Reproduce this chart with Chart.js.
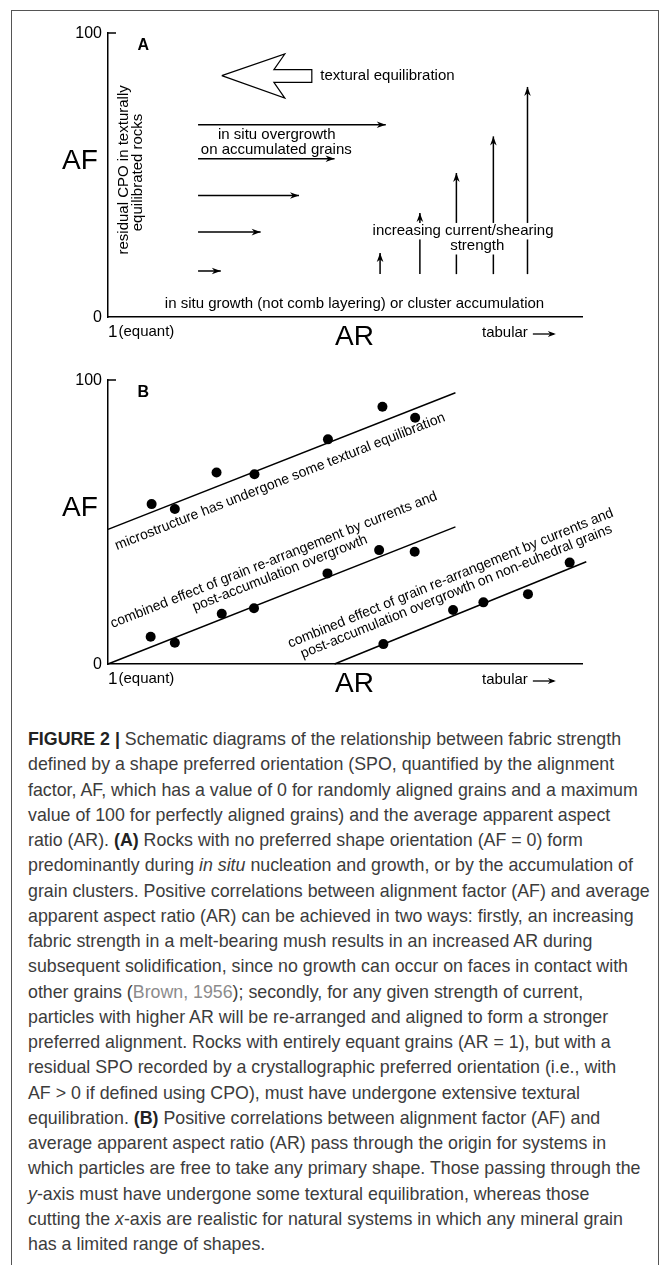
<!DOCTYPE html>
<html>
<head>
<meta charset="utf-8">
<script src="https://cdn.jsdelivr.net/npm/chart.js@4.4.1/dist/chart.umd.min.js"></script>
<style>
  body { margin: 0; background: #fff; width: 668px; height: 1265px; position: relative; overflow: hidden; font-family: 'Liberation Sans', Arial, sans-serif; }
  #frame { position: absolute; left: 11px; top: 10px; width: 646px; height: 1300px; border: 1px solid #555; border-bottom: none; }
  .panel { position: absolute; left: 0; }
  #A { top: 0; }
  #B { top: 350px; }
  #caption { position: absolute; left: 28px; top: 727px; font-size: 17.8px; line-height: 25.25px; color: #3c3c3c; white-space: nowrap; }
  #caption b { color: #222; }
  #caption .ref { color: #8c8c8c; }
</style>
</head>
<body>
<div id="frame"></div>
<canvas id="A" class="panel" width="668" height="350"></canvas>
<canvas id="B" class="panel" width="668" height="350"></canvas>
<div id="caption">
  <div><b>FIGURE 2 |</b> Schematic diagrams of the relationship between fabric strength</div>
  <div>defined by a shape preferred orientation (SPO, quantified by the alignment</div>
  <div>factor, AF, which has a value of 0 for randomly aligned grains and a maximum</div>
  <div>value of 100 for perfectly aligned grains) and the average apparent aspect</div>
  <div>ratio (AR). <b>(A)</b> Rocks with no preferred shape orientation (AF = 0) form</div>
  <div>predominantly during <i>in situ</i> nucleation and growth, or by the accumulation of</div>
  <div>grain clusters. Positive correlations between alignment factor (AF) and average</div>
  <div>apparent aspect ratio (AR) can be achieved in two ways: firstly, an increasing</div>
  <div>fabric strength in a melt-bearing mush results in an increased AR during</div>
  <div>subsequent solidification, since no growth can occur on faces in contact with</div>
  <div>other grains (<span class="ref">Brown, 1956</span>); secondly, for any given strength of current,</div>
  <div>particles with higher AR will be re-arranged and aligned to form a stronger</div>
  <div>preferred alignment. Rocks with entirely equant grains (AR = 1), but with a</div>
  <div>residual SPO recorded by a crystallographic preferred orientation (i.e., with</div>
  <div>AF &gt; 0 if defined using CPO), must have undergone extensive textural</div>
  <div>equilibration. <b>(B)</b> Positive correlations between alignment factor (AF) and</div>
  <div>average apparent aspect ratio (AR) pass through the origin for systems in</div>
  <div>which particles are free to take any primary shape. Those passing through the</div>
  <div><i>y</i>-axis must have undergone some textural equilibration, whereas those</div>
  <div>cutting the <i>x</i>-axis are realistic for natural systems in which any mineral grain</div>
  <div>has a limited range of shapes.</div>
</div>
<script>
// --- Panel A: in situ overgrowth arrows (horizontal)
const overgrowthAF = [67.7, 55.7, 42.8, 29.9, 16.2];
const overgrowthStartAR = [19, 19, 19, 19, 19];
const overgrowthEndAR = [58.6, 47.8, 40.3, 32.2, 23.8];

// --- Panel A: current/shearing arrows (vertical)
const currentAR = [57.4, 65.8, 73.5, 81.3, 88.5];
const currentBaseAF = [15.1, 15.1, 15.1, 15.1, 15.1];
const currentTopAF = [22.5, 36.6, 50.7, 63.6, 81.0];

// --- Panel A: outline of the big hollow arrow (textural equilibration)
const equilAR = [24.0, 37.3, 35.0, 43.0, 43.0, 35.0, 37.3, 24.0];
const equilAF = [85.0, 92.6, 87.1, 87.1, 82.6, 82.6, 77.1, 85.0];

// --- Panel B: trend lines
const trend1AR = [0, 73.3];
const trend1AF = [47.4, 95.5];
const trend2AR = [0, 73.3];
const trend2AF = [0, 48.3];
const trend3AR = [47.8, 100.9];
const trend3AF = [0, 36.0];

// --- Panel B: samples
const pts1AR = [9.2, 14.1, 22.9, 30.9, 46.4, 57.9, 64.8];
const pts1AF = [56.3, 54.6, 67.4, 66.8, 79.1, 90.6, 86.7];
const pts2AR = [9.0, 14.1, 24.0, 30.8, 46.3, 57.2, 64.7];
const pts2AF = [9.6, 7.5, 17.7, 19.6, 31.9, 40.1, 39.5];
const pts3AR = [58.1, 72.8, 79.2, 88.6, 97.4];
const pts3AF = [7.0, 19.0, 21.7, 24.6, 35.7];

// y tick labels (AF)
const yTicks = [0, 100];

const FONT = "'Liberation Sans', Arial, sans-serif";

function toPoints(xs, ys) {
  return xs.map((x, i) => ({ x: x, y: ys[i] }));
}

function lineSet(xs, ys, extra) {
  return Object.assign({
    type: 'scatter',
    data: toPoints(xs, ys),
    showLine: true,
    borderColor: '#000',
    borderWidth: 1.5,
    pointRadius: 0,
    fill: false,
    tension: 0,
    clip: false
  }, extra || {});
}

// notes drawn on top of each chart, in data units
const notes = {
  A: {
    letter: 'A',
    texts: [
      { text: 'textural equilibration', x: 44.8, y: 85.0, align: 'left' },
      { text: 'in situ overgrowth', x: 35.6, y: 64.2 },
      { text: 'on accumulated grains', x: 35.5, y: 58.9 },
      { text: 'increasing current/shearing', x: 74.9, y: 30.3, box: true },
      { text: 'strength', x: 77.9, y: 25.0, box: true },
      { text: 'in situ growth (not comb layering) or cluster accumulation', x: 52.0, y: 4.6 },
      { text: 'residual CPO in texturally', x: 3.3, y: 51.8, rot: -Math.PI / 2 },
      { text: 'equilibrated rocks', x: 6.4, y: 50.9, rot: -Math.PI / 2 }
    ]
  },
  B: {
    letter: 'B',
    texts: [
      { text: 'microstructure has undergone some textural equilibration', x: 36.3, y: 64.2, along: 0, size: 14 },
      { text: 'combined effect of grain re-arrangement by currents and', x: 35.0, y: 36.6, along: 1, size: 14 },
      { text: 'post-accumulation overgrowth', x: 36.3, y: 31.9, along: 1, size: 14 },
      { text: 'combined effect of grain re-arrangement by currents and', x: 72.3, y: 30.2, along: 2, size: 14 },
      { text: 'post-accumulation overgrowth on non-euhedral grains', x: 73.5, y: 25.5, along: 2, size: 14 }
    ]
  }
};

function arrowHead(ctx, x1, y1, x2, y2, len, half) {
  const a = Math.atan2(y2 - y1, x2 - x1);
  const c = Math.cos(a), s = Math.sin(a);
  ctx.beginPath();
  ctx.moveTo(x2, y2);
  ctx.lineTo(x2 - len * c + half * s, y2 - len * s - half * c);
  ctx.lineTo(x2 - len * 0.7 * c, y2 - len * 0.7 * s);
  ctx.lineTo(x2 - len * c - half * s, y2 - len * s + half * c);
  ctx.closePath();
  ctx.fill();
}

const sketch = {
  id: 'sketch',
  afterDatasetsDraw(chart) {
    const ctx = chart.ctx;
    const xs = chart.scales.x, ys = chart.scales.y, area = chart.chartArea;
    const cfg = notes[chart.canvas.id];
    ctx.save();
    ctx.fillStyle = '#000';
    ctx.strokeStyle = '#000';

    // arrow heads
    chart.data.datasets.forEach((ds, i) => {
      if (!ds.arrow) return;
      const p = chart.getDatasetMeta(i).data;
      const a = p[p.length - 2], b = p[p.length - 1];
      arrowHead(ctx, a.x, a.y, b.x, b.y, 9, 3.3);
    });

    // inner tick at the top of the y axis
    const yTop = ys.getPixelForValue(100);
    ctx.lineWidth = 1.5;
    ctx.beginPath();
    ctx.moveTo(area.left, yTop);
    ctx.lineTo(area.left + 8, yTop);
    ctx.stroke();

    // y tick labels
    ctx.font = '16px ' + FONT;
    ctx.textAlign = 'right';
    ctx.textBaseline = 'middle';
    yTicks.forEach(v => {
      ctx.fillText(String(v), area.left - 6, ys.getPixelForValue(v) + 1);
    });

    // panel letter
    ctx.font = 'bold 16px ' + FONT;
    ctx.textAlign = 'left';
    ctx.fillText(cfg.letter, xs.getPixelForValue(6.2), ys.getPixelForValue(95.5));

    // annotations
    cfg.texts.forEach(t => {
      const px = xs.getPixelForValue(t.x), py = ys.getPixelForValue(t.y);
      ctx.font = (t.size || 15) + 'px ' + FONT;
      ctx.save();
      ctx.translate(px, py);
      let rot = t.rot || 0;
      if (t.along !== undefined) {
        const p = chart.getDatasetMeta(t.along).data;
        rot = Math.atan2(p[1].y - p[0].y, p[1].x - p[0].x);
      }
      ctx.rotate(rot);
      ctx.textAlign = t.align || 'center';
      ctx.textBaseline = 'middle';
      if (t.box) {
        const w = ctx.measureText(t.text).width;
        ctx.fillStyle = '#fff';
        ctx.fillRect(-w / 2 - 2, -8, w + 4, 16.5);
        ctx.fillStyle = '#000';
      }
      ctx.fillText(t.text, 0, 0);
      ctx.restore();
    });

    // axis titles and end labels
    ctx.textBaseline = 'middle';
    ctx.font = '28px ' + FONT;
    ctx.textAlign = 'center';
    ctx.fillText('AF', area.left - 28, ys.getPixelForValue(55));
    ctx.fillText('AR', xs.getPixelForValue(52), area.bottom + 20);

    ctx.textAlign = 'left';
    ctx.font = '17px ' + FONT;
    ctx.fillText('1', area.left, area.bottom + 15);
    const w1 = ctx.measureText('1').width;
    ctx.font = '15px ' + FONT;
    ctx.fillText('(equant)', area.left + w1 + 1, area.bottom + 15);

    const tx = xs.getPixelForValue(78.9);
    ctx.fillText('tabular', tx, area.bottom + 16);
    const tw = ctx.measureText('tabular').width;
    ctx.lineWidth = 1.3;
    ctx.beginPath();
    ctx.moveTo(tx + tw + 5, area.bottom + 17);
    ctx.lineTo(tx + tw + 26, area.bottom + 17);
    ctx.stroke();
    arrowHead(ctx, tx + tw + 5, area.bottom + 17, tx + tw + 28, area.bottom + 17, 8, 3);

    ctx.restore();
  }
};

function axes() {
  return {
    x: {
      type: 'linear', min: 0, max: 100,
      ticks: { display: false },
      grid: { drawOnChartArea: false, drawTicks: false },
      border: { display: true, color: '#000', width: 1.5 },
      afterFit: s => { s.height = 0; }
    },
    y: {
      type: 'linear', min: 0, max: 100,
      ticks: { display: false },
      grid: { drawOnChartArea: false, drawTicks: false },
      border: { display: true, color: '#000', width: 1.5 },
      afterFit: s => { s.width = 0; }
    }
  };
}

function baseOptions(padTop, padBottom) {
  return {
    responsive: false,
    animation: false,
    devicePixelRatio: 1,
    events: [],
    layout: { padding: { left: 108, right: 86, top: padTop, bottom: padBottom } },
    plugins: { legend: { display: false }, tooltip: { enabled: false } },
    scales: axes()
  };
}

// Panel A datasets
const dsA = [];
overgrowthAF.forEach((af, i) => {
  dsA.push(lineSet([overgrowthStartAR[i], overgrowthEndAR[i]], [af, af], { arrow: true }));
});
currentAR.forEach((ar, i) => {
  dsA.push(lineSet([ar, ar], [currentBaseAF[i], currentTopAF[i]], { arrow: true }));
});
dsA.push(lineSet(equilAR, equilAF, { borderWidth: 1.2 }));

new Chart(document.getElementById('A'), {
  type: 'scatter',
  data: { datasets: dsA },
  options: baseOptions(33, 33),
  plugins: [sketch]
});

// Panel B datasets (trend lines first, their index is used by the notes)
const dsB = [
  lineSet(trend1AR, trend1AF),
  lineSet(trend2AR, trend2AF),
  lineSet(trend3AR, trend3AF)
];
[[pts1AR, pts1AF], [pts2AR, pts2AF], [pts3AR, pts3AF]].forEach(s => {
  dsB.push({
    type: 'scatter',
    data: toPoints(s[0], s[1]),
    pointRadius: 5,
    pointBackgroundColor: '#000',
    pointBorderWidth: 0,
    clip: false
  });
});

new Chart(document.getElementById('B'), {
  type: 'scatter',
  data: { datasets: dsB },
  options: baseOptions(30, 36),
  plugins: [sketch]
});
</script>
</body>
</html>
